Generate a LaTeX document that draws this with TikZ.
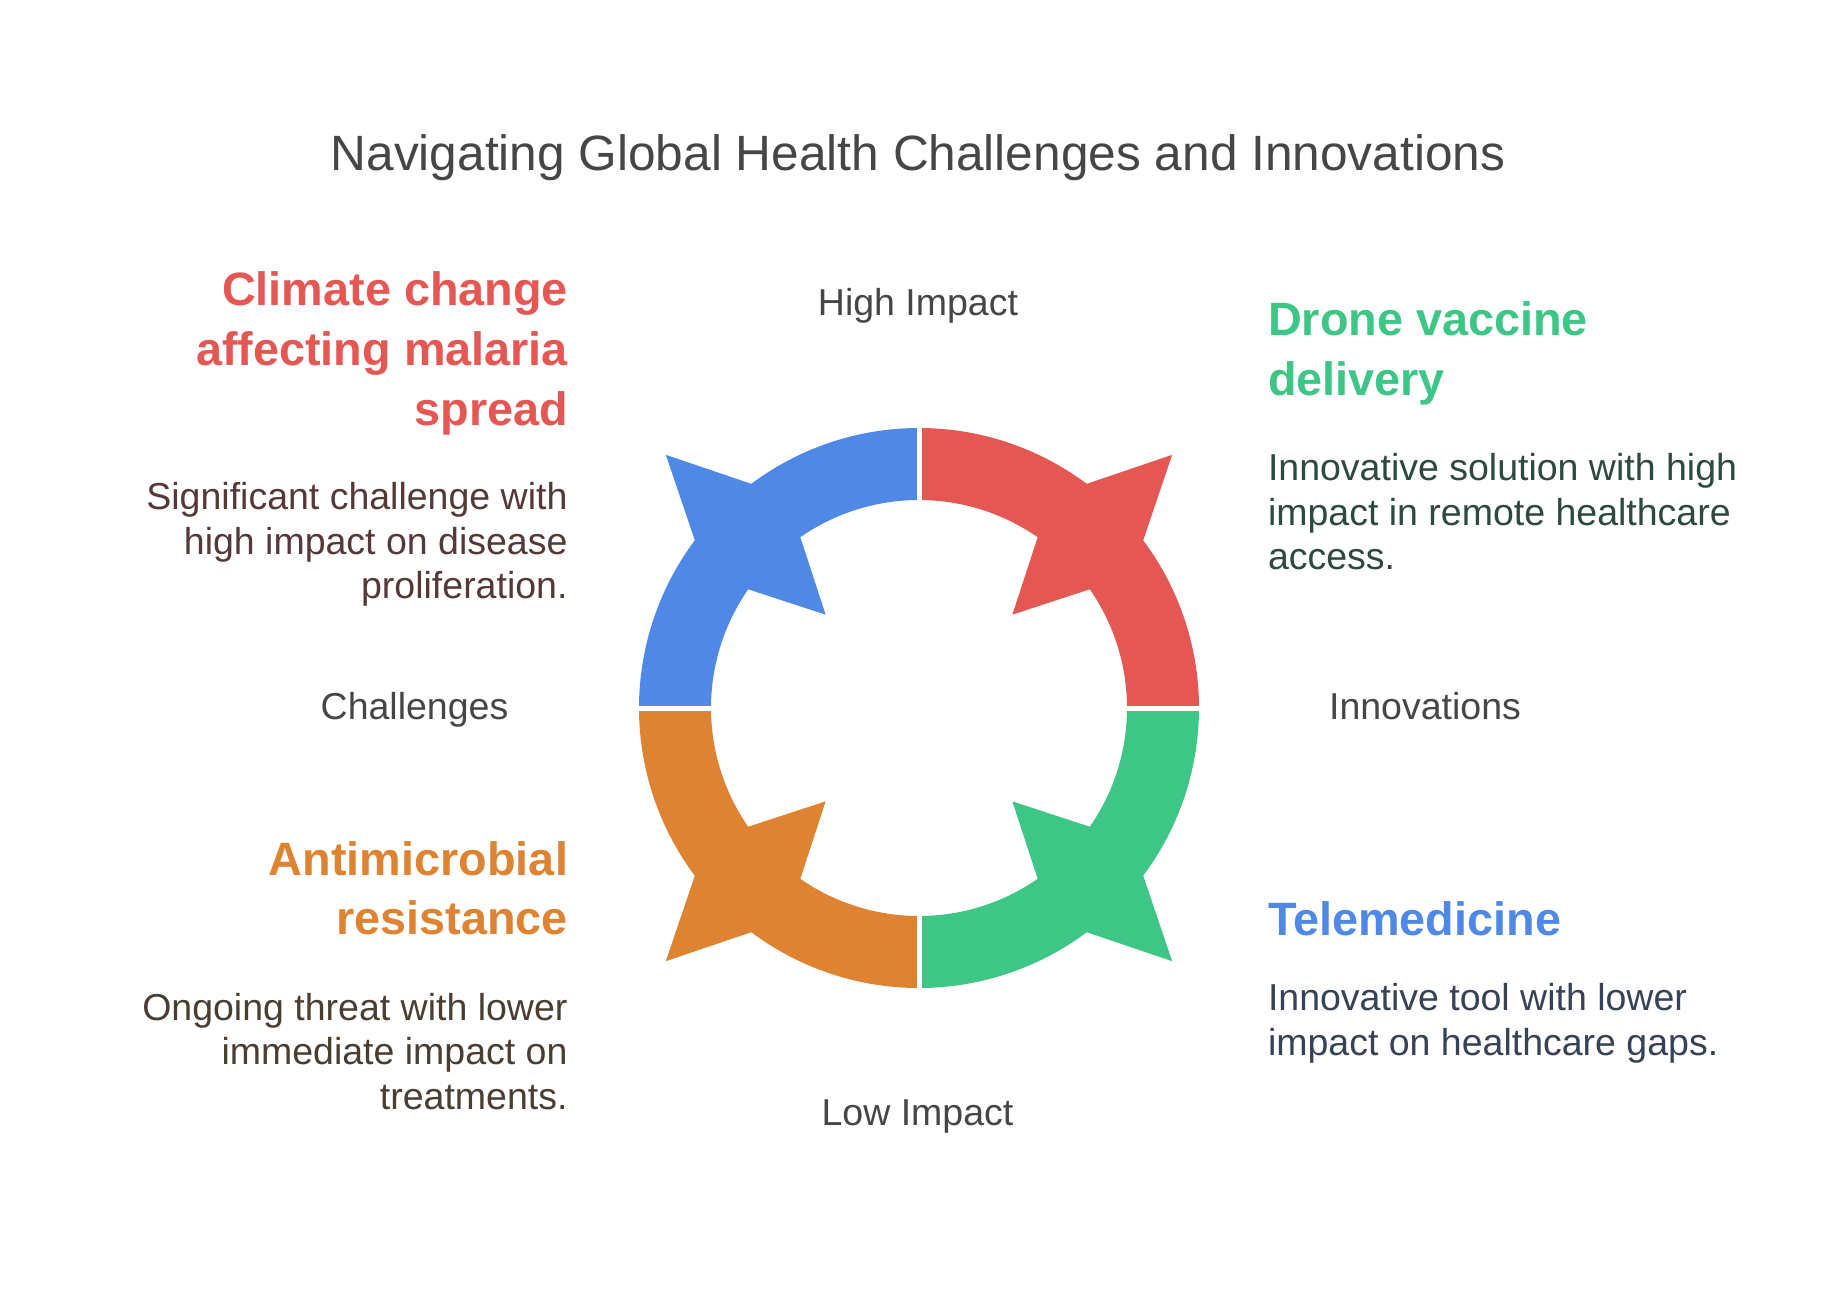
\documentclass[tikz,border=0pt]{standalone}
\usepackage{fontspec}
\setmainfont{Liberation Sans}
\definecolor{cRed}{HTML}{E55753}
\definecolor{cBlue}{HTML}{4F89E5}
\definecolor{cGreen}{HTML}{3DC685}
\definecolor{cOrange}{HTML}{DE8331}
\definecolor{cTitle}{HTML}{464646}
\definecolor{cAxis}{HTML}{464646}
\definecolor{cTxtA}{HTML}{553838}
\definecolor{cTxtB}{HTML}{2E4A40}
\definecolor{cTxtC}{HTML}{4A3E33}
\definecolor{cTxtD}{HTML}{384256}
\newcommand\ringquad[2]{%
  \fill[#2] (#1:280) arc[start angle=#1, end angle={#1+36.8}, radius=280]
    -- ({#1+45}:358) -- ({#1+53.2}:280)
    arc[start angle={#1+53.2}, end angle={#1+90}, radius=280]
    -- ({#1+90}:208)
    arc[start angle={#1+90}, end angle={#1+55.2}, radius=208]
    -- ({#1+45}:132) -- ({#1+34.8}:208)
    arc[start angle={#1+34.8}, end angle=#1, radius=208] -- cycle;}
\tikzset{
  lbl/.style={inner sep=0pt, outer sep=0pt},
  titletxt/.style={lbl, text=cTitle, font=\fontsize{49.6bp}{60bp}\selectfont, anchor=base},
  axistxt/.style={lbl, text=cAxis, font=\fontsize{37.5bp}{45bp}\selectfont, anchor=base},
  headL/.style={lbl, font=\bfseries\fontsize{46.8bp}{60bp}\selectfont, anchor=base east},
  headR/.style={lbl, font=\bfseries\fontsize{46.8bp}{60bp}\selectfont, anchor=base west},
  bodyL/.style={lbl, font=\fontsize{37.5bp}{45bp}\selectfont, anchor=base east},
  bodyR/.style={lbl, font=\fontsize{37.5bp}{45bp}\selectfont, anchor=base west},
  gapline/.style={white, line width=5bp}
}
\begin{document}
\begin{tikzpicture}[x=1bp, y=-1bp]
\useasboundingbox[fill=white] (0,0) rectangle (1836,1295);
% ring
\begin{scope}[shift={(919,708)}, x=1bp, y=1bp]
  \ringquad{0}{cRed}
  \ringquad{90}{cBlue}
  \ringquad{180}{cOrange}
  \ringquad{270}{cGreen}
  \draw[gapline] (-300,0) -- (300,0);
  \draw[gapline] (0,-300) -- (0,300);
\end{scope}
% title and axis labels
\node[titletxt] (title) at (918,170) {Navigating Global Health Challenges and Innovations};
\node[axistxt] (high) at (918,315) {High Impact};
\node[axistxt] (low) at (917.5,1125) {Low Impact};
\node[axistxt] (chal) at (414.5,719) {Challenges};
\node[axistxt] (innov) at (1425,719) {Innovations};
% top left
\node[headL, text=cRed] (cc1) at (568,305) {Climate change};
\node[headL, text=cRed] (cc2) at (568,365) {affecting malaria};
\node[headL, text=cRed] (cc3) at (568,425) {spread};
\node[bodyL, text=cTxtA] (cb1) at (567.5,509.3) {Significant challenge with};
\node[bodyL, text=cTxtA] (cb2) at (567.5,554) {high impact on disease};
\node[bodyL, text=cTxtA] (cb3) at (567.5,598.5) {proliferation.};
% top right
\node[headR, text=cGreen] (dv1) at (1268,335) {Drone vaccine};
\node[headR, text=cGreen] (dv2) at (1268,395) {delivery};
\node[bodyR, text=cTxtB] (db1) at (1268,480) {Innovative solution with high};
\node[bodyR, text=cTxtB] (db2) at (1268,525) {impact in remote healthcare};
\node[bodyR, text=cTxtB] (db3) at (1268,569) {access.};
% bottom left
\node[headL, text=cOrange] (am1) at (568,875) {Antimicrobial};
\node[headL, text=cOrange] (am2) at (568,934) {resistance};
\node[bodyL, text=cTxtC] (ab1) at (567.5,1020) {Ongoing threat with lower};
\node[bodyL, text=cTxtC] (ab2) at (567.5,1064.5) {immediate impact on};
\node[bodyL, text=cTxtC] (ab3) at (567.5,1109) {treatments.};
% bottom right
\node[headR, text=cBlue] (tm1) at (1268,935) {Telemedicine};
\node[bodyR, text=cTxtD] (tb1) at (1268,1010) {Innovative tool with lower};
\node[bodyR, text=cTxtD] (tb2) at (1268,1055) {impact on healthcare gaps.};
\end{tikzpicture}
\end{document}
